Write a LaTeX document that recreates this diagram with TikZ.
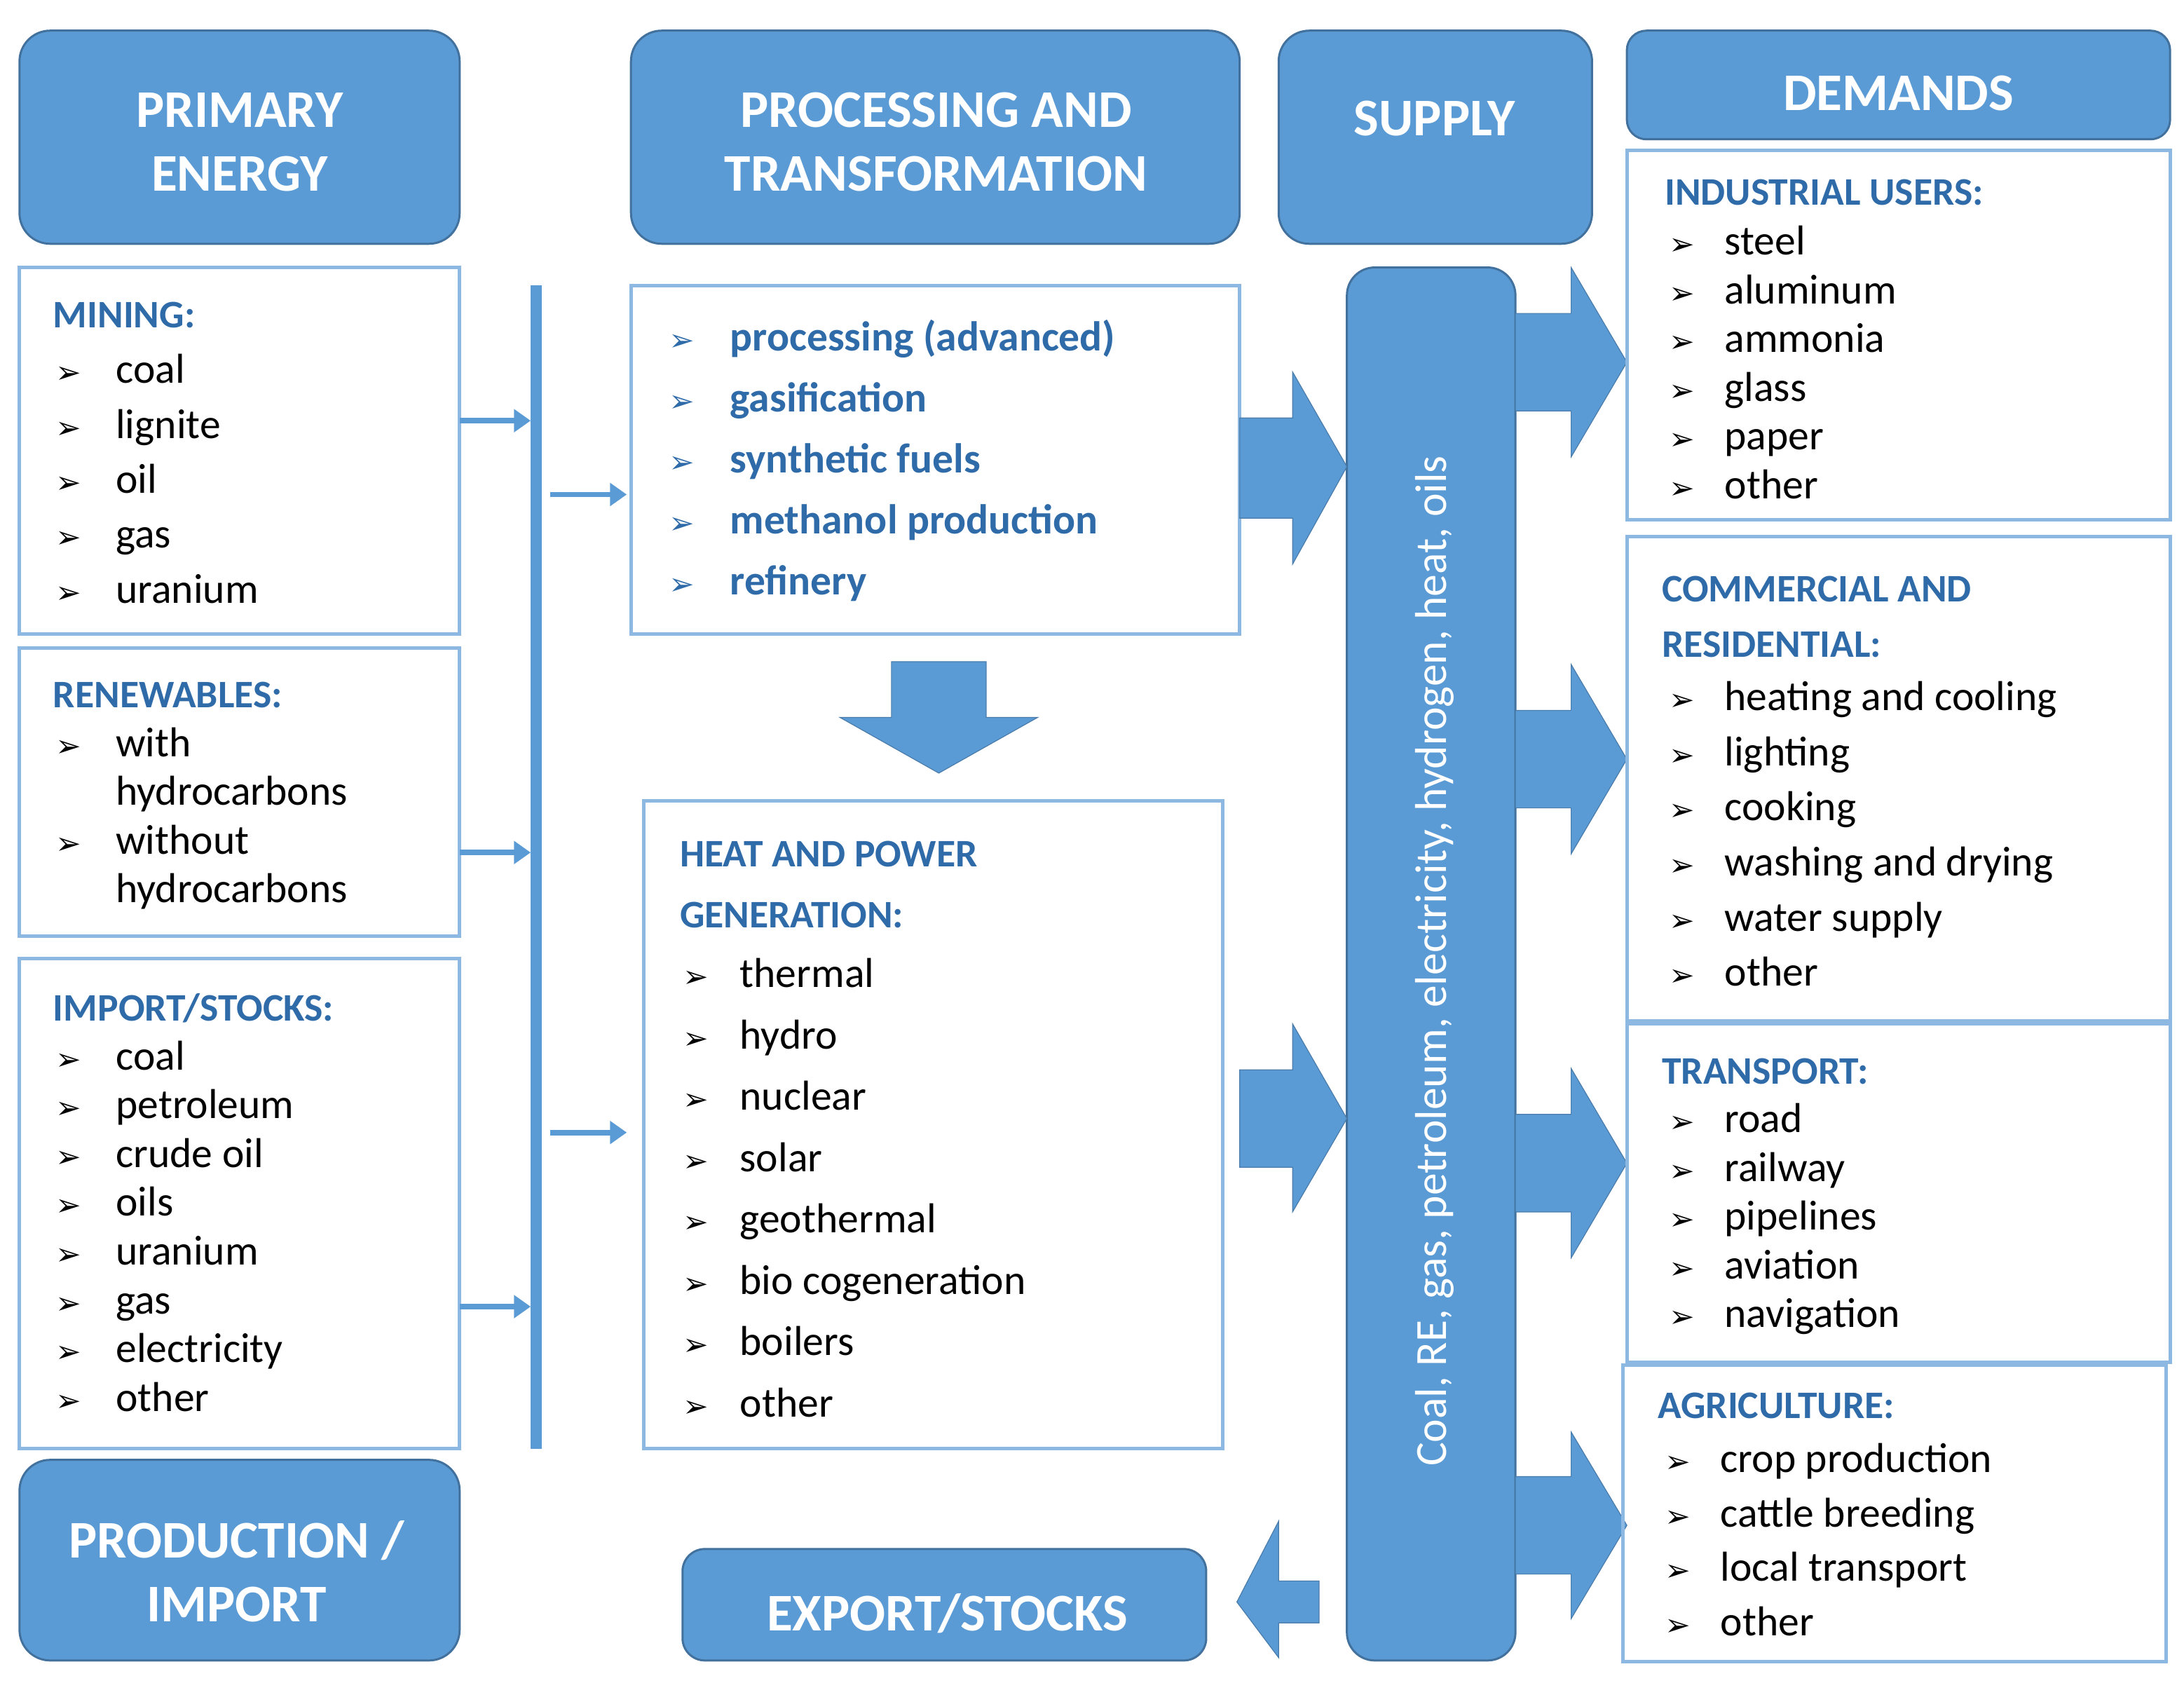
\documentclass[tikz,border=0pt]{standalone}
\usepackage{fontspec}
\setmainfont{Carlito}
\newfontfamily\dvs{DejaVu Sans}
\usetikzlibrary{arrows.meta}
\definecolor{bfill}{HTML}{5B9BD5}
\definecolor{bdraw}{HTML}{41719C}
\definecolor{lbord}{HTML}{8DB8E2}
\definecolor{htext}{HTML}{2E6BA8}
\newcommand\fs[1]{\fontsize{#1}{#1}\selectfont}
\newcommand\bul{{\dvs\fs{22}➢}}
\newcommand\lst[5]{\foreach \t [count=\i from 0] in {#5} {
  \node[bl] at (#1,{#3+\i*#4}) {\bul};
  \node[it] at (#2,{#3+\i*#4}) {\t};}}
\begin{document}
\begin{tikzpicture}[x=1pt,y=-1pt,
 hdr/.style={draw=bdraw,line width=1.5pt,fill=bfill,rounded corners=22pt},
 box/.style={draw=lbord,line width=2.5pt},
 arr/.style={fill=bfill,draw=bfill!80!black,line width=0.6pt},
 htx/.style={text=white,font=\bfseries\fs{38},align=center},
 bl/.style={anchor=base west,inner sep=0},
 it/.style={anchor=base west,inner sep=0,font=\fs{30}},
 pit/.style={anchor=base west,inner sep=0,font=\bfseries\fs{30},text=htext},
 hd/.style={anchor=base west,inner sep=0,font=\bfseries\fs{28},text=htext},
 sa/.style={-{Triangle[length=12pt,width=16pt]},line width=4pt,draw=bfill}]
\useasboundingbox (0,0) rectangle (1568,1208);
% headers
\draw[hdr] (14,22) rectangle (330,175);
\node[htx] (pe) at (172,102) {PRIMARY\\[8pt]ENERGY};
\draw[hdr] (453,22) rectangle (890,175);
\node[htx] (pt) at (672,102) {PROCESSING AND\\[8pt]TRANSFORMATION};
\draw[hdr] (918,22) rectangle (1143,175);
\node[htx] (su) at (1030,85) {SUPPLY};
\draw[hdr,rounded corners=14pt] (1168,22) rectangle (1558,100);
\node[htx] (de) at (1363,67) {DEMANDS};
\draw[hdr] (14,1048) rectangle (330,1192);
\node[htx] (pi) at (170,1128) {PRODUCTION /\\[8pt]IMPORT};
\draw[hdr,rounded corners=16pt] (490,1112) rectangle (866,1192);
\node[htx] (ex) at (680,1158) {EXPORT/STOCKS};
% supply bar
\draw[hdr,rounded corners=20pt] (967,192) rectangle (1088,1192);
\node[text=white,font=\fs{32},rotate=90] (sb) at (1030,690) {Coal, RE, gas, petroleum, electricity, hydrogen, heat, oils};
% left boxes
\draw[box] (14,192) rectangle (330,455);
\node[hd] at (38,235) {MINING:};
\lst{40}{83}{275}{39.5}{coal,lignite,oil,gas,uranium}
\draw[box] (14,465) rectangle (330,672);
\node[hd] at (38,508) {RENEWABLES:};
\lst{40}{83}{543}{70}{with,without}
\node[it] at (83,578) {hydrocarbons};
\node[it] at (83,648) {hydrocarbons};
\draw[box] (14,688) rectangle (330,1040);
\node[hd] at (38,733) {IMPORT/STOCKS:};
\lst{40}{83}{768}{35}{coal,petroleum,crude oil,oils,uranium,gas,electricity,other}
% vertical bar and small arrows
\fill[bfill] (381,205) rectangle (389,1040);
\coordinate (b1) at (381,302); \coordinate (b2) at (381,612); \coordinate (b3) at (381,938);
\draw[sa] (330,302) -- (b1);
\draw[sa] (330,612) -- (b2);
\draw[sa] (330,938) -- (b3);
\draw[sa] (395,355) -- (450,355);
\draw[sa] (395,813) -- (450,813);
% processing
\draw[box] (453,205) rectangle (890,455);
\foreach \t [count=\i from 0] in {processing (advanced),gasification,synthetic fuels,methanol production,refinery}{
 \node[bl] at (480,{252+\i*43.7}) {\color{htext}\bul};
 \node[pit] at (524,{252+\i*43.7}) {\t};}
\fill[arr] (640,475) -- (708,475) -- (708,515) -- (745,515) -- (674,555) -- (603,515) -- (640,515) -- cycle;
% heat
\draw[box] (462,575) rectangle (878,1040);
\node[hd] at (488,622) {HEAT AND POWER};
\node[hd] at (488,666) {GENERATION:};
\lst{490}{531}{709}{44}{thermal,hydro,nuclear,solar,geothermal,bio cogeneration,boilers,other}
% big arrows to supply
\fill[arr] (890,300) -- (928,300) -- (928,267) -- (967,335) -- (928,405) -- (928,372) -- (890,372) -- cycle;
\fill[arr] (890,768) -- (928,768) -- (928,735) -- (967,803) -- (928,870) -- (928,838) -- (890,838) -- cycle;
% arrows to demands
\foreach \y/\h in {260/68,545/68,835/68,1095/67}{
 \fill[arr] (1088,\y-35) -- (1128,\y-35) -- (1128,\y-\h) -- (1168,\y) -- (1128,\y+\h) -- (1128,\y+35) -- (1088,\y+35) -- cycle;}
% export arrow
\fill[arr] (947,1135) -- (918,1135) -- (918,1092) -- (888,1150) -- (918,1190) -- (918,1165) -- (947,1165) -- cycle;
% demand boxes
\draw[box] (1168,108) rectangle (1558,373);
\node[hd] at (1195,147) {INDUSTRIAL USERS:};
\lst{1198}{1238}{183}{35}{steel,aluminum,ammonia,glass,paper,other}
\draw[box] (1168,385) rectangle (1558,733);
\node[hd] at (1193,432) {COMMERCIAL AND};
\node[hd] at (1193,472) {RESIDENTIAL:};
\lst{1198}{1238}{510}{39.6}{heating and cooling,lighting,cooking,washing and drying,water supply,other}
\draw[box] (1168,735) rectangle (1558,978);
\node[hd] at (1193,778) {TRANSPORT:};
\lst{1198}{1238}{813}{35}{road,railway,pipelines,aviation,navigation}
\draw[box] (1165,980) rectangle (1555,1193);
\node[hd] at (1190,1018) {AGRICULTURE:};
\lst{1195}{1235}{1057}{39}{crop production,cattle breeding,local transport,other}
\end{tikzpicture}
\end{document}
